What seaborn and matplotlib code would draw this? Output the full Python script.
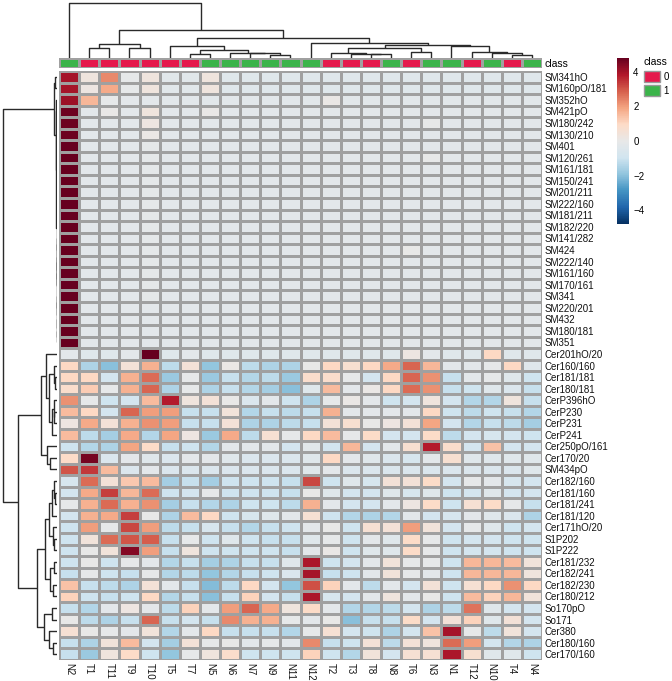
import numpy as np
import pandas as pd
import matplotlib
matplotlib.use("Agg")
import matplotlib.pyplot as plt
import seaborn as sns
from matplotlib.colors import LinearSegmentedColormap
from matplotlib.patches import Patch

plt.rcParams['font.family'] = ['Liberation Sans', 'DejaVu Sans']

samples = ['N2', 'T1', 'T11', 'T9', 'T10', 'T5', 'T7', 'N5', 'N6', 'N7', 'N9', 'N11',
           'N12', 'T2', 'T3', 'T8', 'N8', 'T6', 'N3', 'N1', 'T12', 'N10', 'T4', 'N4']
sample_class = [1, 0, 0, 0, 0, 0, 0, 1, 1, 1, 1, 1, 1, 0, 0, 0, 1, 0, 1, 1, 0, 1, 0, 1]
class_colors = {0: '#e5194c', 1: '#3bb44a'}

sm_lipids = ['SM341hO', 'SM160pO/181', 'SM352hO', 'SM421pO', 'SM180/242', 'SM130/210',
             'SM401', 'SM120/261', 'SM161/181', 'SM150/241', 'SM201/211', 'SM222/160',
             'SM181/211', 'SM182/220', 'SM141/282', 'SM424', 'SM222/140', 'SM161/160',
             'SM170/161', 'SM341', 'SM220/201', 'SM432', 'SM180/181', 'SM351']
cer_lipids = ['Cer201hO/20', 'Cer160/160', 'Cer181/181', 'Cer180/181', 'CerP396hO',
              'CerP230', 'CerP231', 'CerP241', 'Cer250pO/161', 'Cer170/20', 'SM434pO',
              'Cer182/160', 'Cer181/160', 'Cer181/241', 'Cer181/120', 'Cer171hO/20',
              'S1P202', 'S1P222', 'Cer181/232', 'Cer182/241', 'Cer182/230', 'Cer180/212',
              'So170pO', 'So171', 'Cer380', 'Cer180/160', 'Cer170/160']

# z-scores, one row per lipid, columns in the order of `samples`
sm_values = [
    [4.0, 0.3, 2.3, -0.1, 0.3, -0.3, -0.3, 0.3, -0.35, -0.35, -0.35, -0.35, -0.35, -0.35, -0.35, -0.35, -0.35, -0.35, -0.35, -0.35, -0.35, -0.35, -0.35, -0.35],
    [4.0, 0.2, 1.8, -0.1, 0.3, -0.3, -0.3, 0.3, -0.35, -0.35, -0.35, -0.35, -0.35, -0.35, -0.35, -0.35, -0.35, -0.35, -0.35, -0.35, -0.35, -0.35, -0.35, -0.35],
    [4.1, 1.6, -0.1, -0.2, -0.2, -0.25, -0.25, -0.25, -0.25, -0.25, -0.25, -0.25, -0.25, 0.1, -0.25, -0.25, -0.25, -0.25, -0.25, -0.25, -0.25, -0.25, -0.25, -0.25],
    [4.7, -0.22, 0.05, -0.22, 0.3, -0.22, -0.22, 0.05, -0.22, -0.22, -0.22, -0.22, -0.22, -0.22, -0.22, -0.22, -0.22, -0.22, -0.22, -0.22, -0.22, -0.22, -0.22, -0.22],
    [4.7, -0.22, -0.22, -0.22, 0.2, -0.22, -0.22, -0.22, -0.22, -0.22, -0.22, -0.22, -0.22, -0.22, -0.22, -0.22, -0.22, -0.22, -0.05, -0.22, -0.22, -0.22, -0.22, -0.22],
    [4.7, -0.22, -0.22, -0.22, 0.1, -0.22, -0.22, -0.22, -0.22, -0.22, -0.22, -0.22, -0.22, -0.22, -0.22, -0.22, -0.22, -0.22, -0.22, -0.22, -0.22, -0.22, -0.22, -0.22],
    [4.8, -0.21, -0.21, -0.21, -0.12, -0.21, -0.21, -0.21, -0.21, -0.21, -0.21, -0.21, -0.21, -0.21, -0.21, -0.21, -0.21, -0.21, -0.21, -0.21, -0.21, -0.21, -0.21, -0.21],
    [4.8, -0.21, -0.21, -0.21, -0.12, -0.21, -0.21, -0.21, -0.21, -0.21, -0.21, -0.21, -0.21, -0.21, -0.21, -0.21, -0.21, -0.21, -0.05, -0.21, -0.21, -0.21, -0.21, -0.21],
    [4.8, -0.21, -0.21, -0.21, -0.12, -0.21, -0.21, -0.21, -0.21, -0.21, -0.21, -0.21, -0.21, -0.21, -0.21, -0.21, -0.21, -0.21, -0.21, -0.21, -0.21, -0.21, -0.21, -0.21],
    [4.8, -0.21, -0.21, -0.21, -0.12, -0.21, -0.21, -0.21, -0.21, -0.21, -0.21, -0.21, -0.21, -0.21, -0.21, -0.21, -0.21, -0.21, -0.21, -0.21, -0.21, -0.21, -0.21, -0.21],
    [4.8, -0.21, -0.21, -0.21, -0.12, -0.21, -0.21, -0.21, -0.21, -0.21, -0.21, -0.21, -0.21, -0.21, -0.21, -0.21, -0.21, -0.21, -0.21, -0.21, -0.21, -0.21, -0.21, -0.21],
    [4.8, -0.21, -0.21, -0.21, -0.12, -0.21, -0.21, -0.21, -0.21, -0.21, -0.21, -0.21, -0.21, -0.21, -0.21, -0.21, -0.21, -0.21, -0.21, -0.21, -0.21, -0.21, -0.21, -0.21],
    [4.8, -0.21, -0.21, -0.21, -0.12, -0.21, -0.21, -0.21, -0.21, -0.21, -0.21, -0.21, -0.21, -0.21, -0.21, -0.21, -0.21, -0.21, -0.21, -0.21, -0.21, -0.21, -0.21, -0.21],
    [4.8, -0.21, -0.21, -0.21, -0.12, -0.21, -0.21, -0.21, -0.21, -0.21, -0.21, -0.21, -0.21, -0.21, -0.21, -0.21, -0.21, -0.21, -0.21, -0.21, -0.21, -0.21, -0.21, -0.21],
    [4.8, -0.21, -0.21, -0.21, -0.12, -0.21, -0.21, -0.21, -0.21, -0.21, -0.21, -0.21, -0.21, -0.21, -0.21, -0.21, -0.21, -0.21, -0.21, -0.21, -0.21, -0.21, -0.21, -0.21],
    [4.8, -0.21, -0.21, -0.21, -0.12, -0.21, -0.21, -0.21, -0.21, -0.21, -0.21, -0.21, -0.21, -0.21, -0.21, -0.21, -0.21, 0.0, -0.21, -0.21, -0.21, -0.21, -0.21, -0.21],
    [4.8, -0.21, -0.21, -0.21, -0.12, -0.21, -0.21, -0.21, -0.21, -0.21, -0.21, -0.21, -0.21, -0.21, -0.21, -0.21, -0.21, -0.21, -0.21, -0.21, -0.21, -0.21, -0.21, -0.21],
    [4.8, -0.21, -0.21, -0.21, -0.12, -0.21, -0.21, -0.21, -0.21, -0.21, -0.21, -0.21, -0.21, -0.21, -0.21, -0.21, -0.21, -0.21, -0.21, -0.21, -0.21, -0.21, -0.21, -0.21],
    [4.8, -0.21, -0.21, -0.21, -0.12, -0.21, -0.21, -0.21, -0.21, -0.21, -0.21, -0.21, -0.21, -0.21, -0.21, -0.21, -0.21, -0.21, -0.21, -0.21, -0.21, -0.21, -0.21, -0.21],
    [4.8, -0.21, -0.21, -0.21, -0.12, -0.21, -0.21, -0.21, -0.21, -0.21, -0.21, -0.21, -0.21, -0.21, -0.21, -0.21, -0.21, -0.21, -0.21, -0.21, -0.21, -0.21, -0.21, -0.21],
    [4.8, -0.21, -0.21, -0.21, -0.21, -0.21, -0.21, -0.21, -0.21, -0.21, -0.21, -0.21, -0.21, -0.21, -0.21, -0.21, -0.21, -0.21, -0.21, -0.21, -0.21, -0.21, -0.21, -0.21],
    [4.8, -0.21, -0.21, -0.21, -0.21, -0.21, -0.21, -0.21, -0.21, -0.21, -0.21, -0.21, -0.21, -0.21, -0.21, -0.21, -0.21, -0.21, -0.21, -0.21, -0.21, -0.21, -0.21, -0.21],
    [4.8, -0.21, -0.21, -0.21, -0.21, -0.21, -0.21, -0.21, -0.21, -0.21, -0.21, -0.21, -0.21, -0.21, -0.21, -0.21, -0.21, -0.21, -0.21, -0.21, -0.21, -0.21, -0.21, -0.21],
    [4.8, -0.21, -0.21, -0.21, -0.21, -0.21, -0.21, -0.21, -0.21, -0.21, -0.21, -0.21, -0.21, -0.21, -0.21, -0.21, -0.21, -0.21, -0.21, -0.21, -0.21, -0.21, -0.21, -0.21],
]

cer_values = [
    [-0.2, -0.35, -0.35, -0.2, 4.8, -0.35, -0.2, -0.35, -0.35, -0.35, -0.35, -0.35, -0.35, -0.35, -0.35, -0.35, -0.35, 0.2, -0.2, -0.35, -0.35, 1.0, -0.35, -0.35],
    [1.0, -1.5, -2.0, 0.5, 1.7, -1.25, 0.5, -1.9, 0.1, -1.25, -1.5, -1.5, 0.0, 1.0, 0.7, 1.0, 1.8, 2.8, 1.6, -0.2, -0.2, -0.1, 1.0, -0.4],
    [1.0, 1.0, -0.85, 1.7, 2.7, -1.8, -0.1, -1.8, -1.1, -1.4, -1.25, -1.8, 0.8, 0.8, -0.1, -0.85, 1.0, 2.8, 2.2, -1.1, -0.2, -0.1, -0.35, -1.0],
    [0.8, 1.2, -0.1, 1.7, 2.8, -1.5, -0.1, -1.5, -1.1, -1.4, -1.65, -2.0, -0.35, 1.5, -0.2, 0.1, 1.0, 2.7, 2.2, -1.1, -1.0, -0.35, -0.55, -1.1],
    [2.2, -0.1, -1.0, -0.85, 1.5, 3.8, 0.3, 0.5, 0.0, -0.55, -0.2, -1.0, -1.5, -0.1, 0.1, -0.2, -1.0, -0.85, 0.3, -0.85, -1.4, -1.4, 0.3, -1.1],
    [1.5, 1.0, -0.85, 2.8, 2.0, 2.0, -1.1, -1.1, 0.4, -1.4, -1.1, -1.25, -1.1, 1.7, -0.2, -0.2, -0.2, -0.2, 1.0, -1.0, -1.25, -1.0, -1.1, -1.4],
    [0.2, 1.8, 0.5, 1.7, 2.2, 2.0, -1.1, -1.1, 0.5, -1.5, -1.5, -1.25, -1.1, 0.5, 0.7, 0.0, 0.2, 0.5, 1.9, -0.85, -1.4, -1.1, -1.25, -1.65],
    [1.5, -1.25, -1.65, 1.8, -1.4, 1.9, 0.2, -1.8, 1.8, -1.25, 0.6, -0.1, 1.0, 1.5, -0.1, 0.9, -0.85, -0.85, 0.9, -1.25, -0.85, -0.7, -0.85, -1.0],
    [-1.0, -1.4, -1.5, 1.9, 0.9, -1.1, -1.0, -1.4, -0.2, -0.2, -0.2, -0.85, -0.3, -0.9, 1.6, -0.85, -0.2, 0.7, 3.8, 0.8, -0.85, 1.4, -0.85, -0.85],
    [0.9, 4.6, -0.55, -0.2, -0.35, -0.55, -0.2, -0.2, -0.35, -0.55, -0.55, -0.55, -0.35, 1.0, -0.2, -0.35, -0.55, -0.7, -0.2, 0.7, -0.35, -0.35, -0.35, -0.35],
    [3.0, 3.4, 1.5, -0.55, -0.2, -0.55, -0.55, -0.55, -0.55, -0.55, -0.55, -0.55, -0.35, -0.2, -0.55, -0.55, -0.55, -0.55, -0.55, -0.55, -0.55, -0.55, -0.55, -0.35],
    [-0.7, 2.7, 0.5, 1.3, 1.5, -1.65, -1.1, -1.65, -1.0, -1.0, -1.0, -1.1, 3.2, -1.0, -0.35, -0.7, 0.5, 0.5, 0.9, -0.85, -0.1, -0.2, -0.7, -0.85],
    [-0.85, 1.8, 3.3, 1.6, 2.7, -1.0, -0.85, -0.1, -1.0, -1.0, -1.0, -1.1, 0.0, -0.35, -0.85, -0.85, -0.35, -0.7, -0.35, -1.0, -0.85, -0.35, -0.85, -0.85],
    [-0.1, 1.7, 2.7, 1.7, 2.2, -1.65, -1.1, -1.4, -1.5, -1.0, -1.0, -1.25, 1.7, -0.2, -0.85, -0.85, -0.2, 0.2, 0.9, -1.0, 0.6, 0.9, -0.1, -1.1],
    [-0.85, 1.7, 1.8, 3.3, 0.0, -1.5, 1.5, 1.0, -1.0, -0.7, -0.35, -0.2, 0.6, -1.0, -1.4, -1.5, -1.4, -0.2, -0.85, -0.7, -0.2, -0.35, -0.55, -1.5],
    [-1.0, 2.0, -0.1, 3.2, 2.0, -1.25, -1.1, -0.7, -1.1, -1.4, -1.1, -1.0, -0.2, 0.0, -1.0, 0.6, 0.5, 2.0, 0.4, -0.85, -0.1, -0.35, -1.0, -0.85],
    [-1.0, 0.4, 2.7, 3.0, 2.9, -1.1, -0.1, -1.0, -0.35, -1.0, -1.1, -1.1, -0.35, -0.1, -1.0, -0.2, -0.35, 0.9, -0.1, -1.0, -0.85, -0.85, -1.0, -1.0],
    [-1.0, 0.0, 0.4, 4.4, 2.0, -1.1, 0.3, -1.0, -1.0, -1.0, -1.0, -1.1, -0.2, 0.1, -1.0, -0.35, -0.35, 0.9, -0.1, -1.0, -0.85, -0.85, -1.0, -1.0],
    [-1.0, 0.0, -1.0, -0.1, -0.2, -1.4, -1.1, -1.65, -1.5, -1.1, -1.1, -0.35, 3.9, -1.0, -0.85, -0.2, 0.4, -0.1, -0.1, -1.0, 1.6, 1.6, 1.5, 0.4],
    [-1.1, -0.1, -1.0, -1.1, -0.1, -1.4, -1.25, -1.9, -1.4, -1.1, -1.0, -0.55, 4.0, -1.1, -1.0, -0.2, 0.4, -0.1, -0.2, -1.0, 1.6, 1.6, 1.6, 0.3],
    [1.4, -1.1, -1.25, -1.5, 0.5, -0.2, -1.1, -2.1, -1.25, 1.0, -0.85, -1.9, 3.1, 1.1, -0.2, -1.25, -0.2, -0.85, 0.5, -1.0, 0.6, 1.0, 2.2, 1.0],
    [1.1, -1.0, -1.1, -1.0, 1.0, -1.4, -1.1, -2.0, -1.1, 1.1, -0.85, -1.1, 3.9, -0.7, -0.85, -0.2, 0.3, -0.2, 0.0, -1.0, 1.5, 1.1, 1.6, 0.4],
    [-1.1, -1.4, -0.2, 0.2, -0.2, -1.25, 1.1, -0.2, 2.0, 2.8, 1.8, 0.3, 0.9, -0.2, -1.4, -1.4, -1.25, -0.85, -1.5, -1.25, 2.6, -0.35, -0.85, -0.85],
    [0.0, -1.25, -1.5, -1.1, 2.8, -1.1, -0.85, -1.1, 2.3, 1.7, 1.7, -0.1, -0.2, 0.0, -2.0, -1.1, -1.1, 0.9, -0.85, 0.5, 1.1, -0.35, 0.5, -0.85],
    [0.6, 0.0, -0.1, -0.2, 0.4, -1.4, -0.2, 1.0, -1.1, -1.1, -1.1, -1.4, -0.1, 0.6, -0.85, -1.0, -1.5, -0.85, 1.4, 4.0, -0.1, -1.25, 0.4, -0.85],
    [-1.1, -1.5, 0.4, 1.5, -0.85, -1.65, 0.5, -0.1, 0.0, -0.2, -0.1, -0.2, 2.3, -1.1, -1.0, 0.5, -1.25, 0.5, 0.3, 2.7, 2.0, -0.85, -1.4, -1.5],
    [-1.1, -1.8, 0.3, 0.9, -1.0, -1.9, -0.1, 0.3, 0.8, -1.0, -1.0, -1.0, 1.1, -1.0, -1.4, 0.4, -0.85, 0.6, 0.6, 3.9, 0.7, -0.35, -0.35, -1.0],
]

# dendrogram trees: [height, left, right], leaves are row/column numbers
col_tree = [100, 0, [50.9, [25.5, [18.2, 1, 2], [18.2, 3, 4]],
                     [36.9, [21.8, 5, [14.5, [7.3, 6, 7], [9.6, 8, [8.5, 9, [5.5, 10, 11]]]]],
                            [27.3, 12, [23.6, [17.6, [9.1, 13, [7.3, 14, [6.4, 15, 16]]], [11.5, 17, 18]],
                                              [22.4, 19, [11.5, 20, [9.1, 21, [5.5, 22, 23]]]]]]]]]

sm_tree = [5.5, [3.5, 0, 1],
           [2.5, 2, [1.5, 3, [0.6,
                              [0.4, [0.3, [0.2, 4, 5], [0.2, 6, [0.1, 7, 8]]],
                                    [0.3, [0.2, 9, 10], [0.2, 11, [0.1, 12, 13]]]],
                              [0.4, [0.3, [0.2, 14, 15], [0.2, 16, [0.1, 17, 18]]],
                                    [0.3, [0.2, 19, 20], [0.2, 21, [0.1, 22, 23]]]]]]]]
cer_tree = [72, [30, [20, 24, [14, [6, 25, [4, 26, 27]], [10, [6, 28, [5, 29, 30]], 31]]],
                     [18, 32, [12, 33, 34]]],
                [36, [22, [14, [9, [6, 35, [4, 36, 37]], 38], [8, 39, [5, 40, 41]]],
                          [12, [6, 42, 43], [7, 44, 45]]],
                     [24, [10, 46, 47], [14, 48, [8, 49, 50]]]]]
row_tree = [100, sm_tree, cer_tree]


def to_linkage(tree, n):
    rows = []

    def walk(node):
        if isinstance(node, int):
            return node, 1
        h, left, right = node
        a, ca = walk(left)
        b, cb = walk(right)
        rows.append([a, b, h, ca + cb])
        return n + len(rows) - 1, ca + cb

    walk(tree)
    return np.array(rows, dtype=float)


lipids = sm_lipids + cer_lipids
df = pd.DataFrame(sm_values + cer_values, index=lipids, columns=samples)
col_colors = pd.Series([class_colors[c] for c in sample_class], index=samples, name='class')

cmap = LinearSegmentedColormap.from_list(
    'rdbu_grey', ['#053061', '#2166ac', '#4393c3', '#92c5de', '#d1e5f0', '#e8e8e8',
                  '#fddbc7', '#f4a582', '#d6604d', '#b2182b', '#67001f'])

g = sns.clustermap(df, row_linkage=to_linkage(row_tree, len(lipids)),
                   col_linkage=to_linkage(col_tree, len(samples)),
                   col_colors=col_colors, cmap=cmap, vmin=-4.8, vmax=4.8,
                   linewidths=0.8, linecolor='#a0a0a0',
                   xticklabels=True, yticklabels=True,
                   figsize=(6.72, 6.81), dendrogram_ratio=(0.085, 0.085),
                   colors_ratio=0.015, cbar_pos=(0.918, 0.671, 0.018, 0.244),
                   tree_kws={'linewidths': 1.0, 'colors': '#2a2a2a'})

W, H = 672, 681
g.ax_heatmap.set_position([59 / W, 1 - 660 / H, 483 / W, 589 / H])
g.ax_row_dendrogram.set_position([0, 1 - 660 / H, 57 / W, 589 / H])
g.ax_col_colors.set_position([59 / W, 1 - 68 / H, 483 / W, 10 / H])
g.ax_col_dendrogram.set_position([59 / W, 1 - 58 / H, 483 / W, 58 / H])
g.ax_cbar.set_position([617 / W, 1 - 224 / H, 12 / W, 166 / H])

g.ax_heatmap.set_xlabel('')
g.ax_heatmap.set_ylabel('')
g.ax_heatmap.tick_params(axis='both', length=0, labelsize=7, pad=2, labelcolor='#111111')
plt.setp(g.ax_heatmap.get_xticklabels(), rotation=270)
plt.setp(g.ax_heatmap.get_yticklabels(), rotation=0)
g.ax_col_colors.tick_params(axis='y', length=0, labelsize=7.5, pad=2)

g.ax_cbar.set_yticks([-4, -2, 0, 2, 4])
g.ax_cbar.tick_params(length=0, labelsize=7, pad=3)
for spine in g.ax_cbar.spines.values():
    spine.set_visible(False)

handles = [Patch(facecolor=class_colors[0], edgecolor='#999999', label='0'),
           Patch(facecolor=class_colors[1], edgecolor='#999999', label='1')]
leg = g.figure.legend(handles=handles, title='class', loc='upper left',
                      bbox_to_anchor=(644 / W, 1 - 57 / H), frameon=False,
                      fontsize=7, title_fontsize=7.5, handlelength=1.65,
                      handleheight=1.35, handletextpad=0.35, labelspacing=0.3,
                      borderaxespad=0, borderpad=0)
leg._legend_box.align = 'left'
leg._legend_box.sep = 3

g.figure.savefig('out.png', dpi=100)
